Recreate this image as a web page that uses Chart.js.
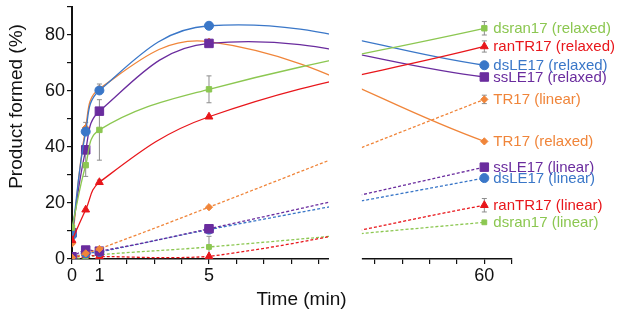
<!DOCTYPE html>
<html>
<head>
<meta charset="utf-8">
<script src="https://cdn.jsdelivr.net/npm/chart.js@4.4.1/dist/chart.umd.min.js"></script>
<style>
  html, body { margin: 0; padding: 0; background: #ffffff; }
  #wrap { width: 617px; height: 313px; position: relative; }
</style>
</head>
<body>
<div id="wrap"><canvas id="c" width="617" height="313"></canvas></div>
<script>
// ---------- data (time in minutes, product formed in %) ----------
const times = [0, 0.5, 1, 5, 60];

const dsLE17Relaxed   = [8.5, 45.5, 60.2, 83.3, 69.2];
const TR17Relaxed     = [5.5, 46.8, 60.8, 77.6, 42.0];
const ssLE17Relaxed   = [9.4, 39.0, 52.8, 77.0, 65.0];
const dsran17Relaxed  = [11.2, 33.5, 46.1, 60.6, 82.4];
const ranTR17Relaxed  = [6.7, 17.6, 27.4, 50.8, 75.9];

const TR17Linear      = [0.5, 2.0, 3.6, 18.5, 57.0];
const ssLE17Linear    = [0.8, 3.2, 2.8, 10.8, 32.8];
const dsLE17Linear    = [0.5, 2.0, 2.5, 10.5, 28.9];
const ranTR17Linear   = [0.3, 1.4, 0.9, 0.9, 19.2];
const dsran17Linear   = [0.2, 0.5, 1.5, 4.3, 13.1];

// error bars (+/-) per time point
const dsran17RelaxedErr = [0, 4.0, 10.8, 4.8, 2.4];
const ranTR17RelaxedErr = [0, 0, 0.8, 0, 2.0];
const TR17RelaxedErr    = [0, 2.0, 1.7, 0, 0];
const TR17LinearErr     = [0, 0, 0, 0, 1.5];
const ranTR17LinearErr  = [0, 0, 0, 0, 2.4];
const dsran17LinearErr  = [0, 0, 0, 3.8, 0];

const seriesNames = [
  'dsran17 (relaxed)', 'ranTR17 (relaxed)', 'dsLE17 (relaxed)', 'ssLE17 (relaxed)',
  'TR17 (linear)', 'TR17 (relaxed)', 'ssLE17 (linear)', 'dsLE17 (linear)',
  'ranTR17 (linear)', 'dsran17 (linear)'
];

// x axis tick positions (minutes) and which get a label
const xTickTimes = [0, 1, 2, 3, 4, 5, 6, 7, 8, 9, 20, 30, 40, 50, 60, 70];
const xTickLabeled = [0, 1, 5, 60];
const yTickLabeled = [0, 20, 40, 60, 80];

// ---------- broken time axis: 0..9.4 min (full scale), then 10x compressed around 60 ----------
const LEFT_END = 9.38, RIGHT_START = 10.58, X_MAX = 16.06;
const toU = t => (t <= 10 ? t : 15.05 + (t - 60) / 10);

const COLORS = {
  green: '#8cc751', red: '#e8161b', blue: '#3a77c8', purple: '#6a2c9e', orange: '#f0853a'
};

function mk(name, vals, color, style, radius, dashed, err) {
  return {
    label: name,
    data: times.map((t, i) => ({ x: toU(t), y: vals[i] })),
    err: err || null,
    borderColor: color,
    backgroundColor: color,
    pointBackgroundColor: color,
    pointBorderColor: color,
    pointStyle: style,
    pointRadius: radius,
    pointHoverRadius: radius,
    pointBorderWidth: 1,
    borderWidth: 1.3,
    borderDash: dashed ? [3, 2] : [],
    tension: 0.4,
    fill: false
  };
}

const datasets = [
  mk(seriesNames[0], dsran17Relaxed, COLORS.green, 'rect', 3.8, false, dsran17RelaxedErr),
  mk(seriesNames[1], ranTR17Relaxed, COLORS.red, 'triangle', 4.5, false, ranTR17RelaxedErr),
  mk(seriesNames[2], dsLE17Relaxed, COLORS.blue, 'circle', 4.5, false),
  mk(seriesNames[3], ssLE17Relaxed, COLORS.purple, 'rect', 6, false),
  mk(seriesNames[4], TR17Linear, COLORS.orange, 'rectRot', 3.6, true, TR17LinearErr),
  mk(seriesNames[5], TR17Relaxed, COLORS.orange, 'rectRot', 3.6, false, TR17RelaxedErr),
  mk(seriesNames[6], ssLE17Linear, COLORS.purple, 'rect', 6, true),
  mk(seriesNames[7], dsLE17Linear, COLORS.blue, 'circle', 4.5, true),
  mk(seriesNames[8], ranTR17Linear, COLORS.red, 'triangle', 4.5, true, ranTR17LinearErr),
  mk(seriesNames[9], dsran17Linear, COLORS.green, 'rect', 3.4, true, dsran17LinearErr)
];

const FONT = '"Liberation Sans", Arial, Helvetica, sans-serif';

const extras = {
  id: 'extras',
  beforeDatasetsDraw(chart) {
    const ctx = chart.ctx, xs = chart.scales.x, ys = chart.scales.y;
    ctx.save();
    ctx.strokeStyle = '#8c8c8c';
    ctx.lineWidth = 1;
    chart.data.datasets.forEach(ds => {
      if (!ds.err) return;
      ds.data.forEach((p, i) => {
        const e = ds.err[i];
        if (!e) return;
        const px = xs.getPixelForValue(p.x);
        const y1 = ys.getPixelForValue(p.y + e), y2 = ys.getPixelForValue(p.y - e);
        ctx.beginPath();
        ctx.moveTo(px, y1); ctx.lineTo(px, y2);
        ctx.moveTo(px - 2.5, y1); ctx.lineTo(px + 2.5, y1);
        ctx.moveTo(px - 2.5, y2); ctx.lineTo(px + 2.5, y2);
        ctx.stroke();
      });
    });
    ctx.restore();
  },
  afterDatasetsDraw(chart) {
    const ctx = chart.ctx, xs = chart.scales.x, ys = chart.scales.y;
    // axis break
    const g1 = xs.getPixelForValue(LEFT_END), g2 = xs.getPixelForValue(RIGHT_START);
    ctx.save();
    ctx.fillStyle = '#ffffff';
    ctx.fillRect(g1, 0, g2 - g1, ys.bottom + 3);
    ctx.restore();
    // end labels
    ctx.save();
    ctx.font = '15px ' + FONT;
    ctx.textAlign = 'left';
    ctx.textBaseline = 'middle';
    chart.data.datasets.forEach((ds, di) => {
      const meta = chart.getDatasetMeta(di);
      const pt = meta.data[meta.data.length - 1];
      ctx.fillStyle = ds.borderColor;
      ctx.fillText(ds.label, pt.x + 9, pt.y + 0.5);
    });
    ctx.restore();
  },
  afterDraw(chart) {
    const ctx = chart.ctx;
    ctx.save();
    ctx.fillStyle = '#111111';
    ctx.font = '19px ' + FONT;
    ctx.textAlign = 'center';
    ctx.textBaseline = 'middle';
    ctx.fillText('Time (min)', 301.5, 300);
    ctx.translate(17, 106.5);
    ctx.rotate(-Math.PI / 2);
    ctx.fillText('Product formed (%)', 0, 0);
    ctx.restore();
  }
};

new Chart(document.getElementById('c'), {
  type: 'line',
  data: { datasets },
  options: {
    responsive: false,
    animation: false,
    events: [],
    layout: { padding: { top: 2.5, right: 105, bottom: 0, left: 0 } },
    plugins: { legend: { display: false }, tooltip: { enabled: false } },
    scales: {
      x: {
        type: 'linear',
        min: 0,
        max: X_MAX,
        afterBuildTicks: s => { s.ticks = xTickTimes.map(t => ({ value: toU(t) })); },
        afterFit: s => { s.height = 54; s.paddingLeft = 0; s.paddingRight = 0; },
        ticks: {
          autoSkip: false,
          maxRotation: 0,
          padding: 1,
          color: '#111111',
          font: { family: FONT, size: 18 },
          callback: (v, i) => (xTickLabeled.includes(xTickTimes[i]) ? String(xTickTimes[i]) : '')
        },
        grid: { drawOnChartArea: false, drawTicks: true, tickLength: 5, tickColor: '#111111', lineWidth: 1.2 },
        border: { display: true, color: '#111111', width: 1.6 }
      },
      y: {
        type: 'linear',
        min: 0,
        max: 90,
        afterFit: s => { s.width = 72; s.paddingTop = 0; s.paddingBottom = 0; },
        ticks: {
          stepSize: 10,
          padding: 2,
          color: '#111111',
          font: { family: FONT, size: 18 },
          callback: v => (yTickLabeled.includes(v) ? String(v) : '')
        },
        grid: { drawOnChartArea: false, drawTicks: true, tickLength: 5, tickColor: '#111111', lineWidth: 1.2 },
        border: { display: true, color: '#111111', width: 2 }
      }
    }
  },
  plugins: [extras]
});
</script>
</body>
</html>
